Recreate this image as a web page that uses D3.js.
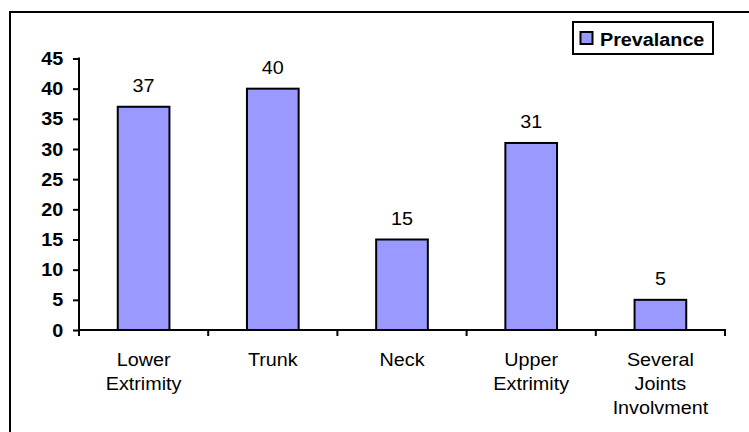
<!DOCTYPE html>
<html>
<head>
<meta charset="utf-8">
<script src="https://cdn.jsdelivr.net/npm/d3@7"></script>
<style>
  html, body { margin: 0; padding: 0; background: #fff; }
  svg { display: block; font-family: "Liberation Sans", Arial, sans-serif; }
</style>
</head>
<body>
<svg id="chart" width="749" height="432"></svg>
<script>
const categories = [["Lower", "Extrimity"], ["Trunk"], ["Neck"], ["Upper", "Extrimity"], ["Several", "Joints", "Involvment"]];
const values = [37, 40, 15, 31, 5];
const yTicks = [0, 5, 10, 15, 20, 25, 30, 35, 40, 45];
const seriesName = "Prevalance";

const svg = d3.select("#chart");
const SX = 1.13;
const FS = 17.5;
const barColor = "#9999FF";

// Outer frame (cut at right and bottom)
svg.append("path")
  .attr("d", "M10,760 L10,12 L760,12")
  .attr("fill", "none").attr("stroke", "#000").attr("stroke-width", 2);

const catKeys = categories.map(c => c.join(" "));
const x = d3.scaleBand().domain(catKeys).range([79, 725]).padding(0);
const y = d3.scaleLinear().domain([0, 45]).range([330, 58.5]);

// bars
const bw = x.bandwidth() * 0.4;
svg.append("g").selectAll("rect").data(values).join("rect")
  .attr("x", (d, i) => x(catKeys[i]) + x.bandwidth() / 2 - bw / 2)
  .attr("y", d => y(d))
  .attr("width", bw)
  .attr("height", d => y(0) - y(d))
  .attr("fill", barColor)
  .attr("stroke", "#000")
  .attr("stroke-width", 2);

// value labels
svg.append("g").selectAll("text").data(values).join("text")
  .attr("transform", (d, i) => `translate(${x(catKeys[i]) + x.bandwidth() / 2},${y(d) - 15}) scale(${SX},1)`)
  .attr("text-anchor", "middle")
  .attr("font-size", FS)
  .attr("fill", "#000")
  .text(d => d);

// Y axis
const yAxis = svg.append("g").attr("transform", "translate(79,0)")
  .call(d3.axisLeft(y).tickValues(yTicks).tickSize(6).tickSizeOuter(0).tickFormat(d3.format("d")));
yAxis.select(".domain").attr("stroke", "#000").attr("stroke-width", 2).attr("d", `M0,${y(45) - 1}V${y(0)}`);
yAxis.selectAll(".tick line").attr("stroke", "#000").attr("stroke-width", 2);
yAxis.selectAll(".tick text")
  .attr("x", -14).attr("dy", "0.35em")
  .attr("transform", `scale(${SX},1)`)
  .attr("font-size", FS).attr("font-weight", "bold")
  .attr("font-family", "'Liberation Sans', Arial, sans-serif")
  .attr("fill", "#000");

// X axis
const xAxis = svg.append("g").attr("transform", `translate(0,${y(0)})`);
xAxis.append("line").attr("x1", 78).attr("x2", 726).attr("y1", 0).attr("y2", 0)
  .attr("stroke", "#000").attr("stroke-width", 2);
const bounds = catKeys.map(k => x(k)).concat([x(catKeys[catKeys.length - 1]) + x.bandwidth()]);
xAxis.selectAll("line.tk").data(bounds).join("line").attr("class", "tk")
  .attr("x1", d => d).attr("x2", d => d).attr("y1", 0).attr("y2", 6)
  .attr("stroke", "#000").attr("stroke-width", 2);

// category labels
const lab = svg.append("g").selectAll("text").data(categories).join("text")
  .attr("transform", (d, i) => `translate(${x(catKeys[i]) + x.bandwidth() / 2},366) scale(${SX},1)`)
  .attr("text-anchor", "middle")
  .attr("font-size", FS)
  .attr("fill", "#000");
lab.selectAll("tspan").data(d => d).join("tspan")
  .attr("x", 0).attr("y", (d, i) => i * 24)
  .text(d => d);

// Legend
const lg = svg.append("g");
lg.append("rect").attr("x", 573).attr("y", 22).attr("width", 140).attr("height", 32)
  .attr("fill", "#fff").attr("stroke", "#000").attr("stroke-width", 2);
lg.append("rect").attr("x", 580.5).attr("y", 32).attr("width", 12).attr("height", 12)
  .attr("fill", barColor).attr("stroke", "#000").attr("stroke-width", 2);
lg.append("text")
  .attr("transform", `translate(600,45.5) scale(${SX},1)`)
  .attr("font-size", FS).attr("font-weight", "bold").attr("fill", "#000")
  .text(seriesName);
</script>
</body>
</html>
